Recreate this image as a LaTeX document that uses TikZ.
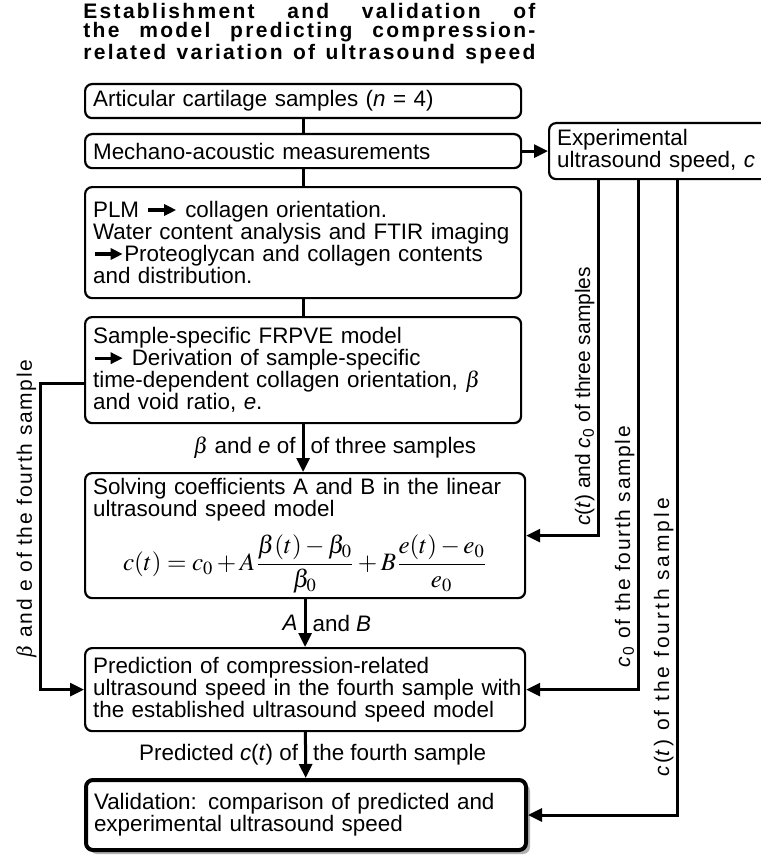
\documentclass[tikz,border=0pt]{standalone}
\usepackage{mathptmx}
\usepackage[no-math]{fontspec}
\setmainfont{Liberation Sans}
\newfontfamily\titlefont{Liberation Sans}[LetterSpace=11]
\newfontfamily\widefont{Liberation Sans}[LetterSpace=8]
\newfontfamily\widerfont{Liberation Sans}[LetterSpace=14]
\usetikzlibrary{arrows.meta,shadows}

\newcommand{\boxfont}{\fontsize{11.2pt}{11pt}\selectfont}
\newcommand{\sidefont}{\fontsize{10.5pt}{12pt}\selectfont}
\newcommand{\headfont}{\titlefont\bfseries\fontsize{10.5pt}{9.4pt}\selectfont}
\newcommand{\eqfont}{\fontsize{12.5pt}{14pt}\selectfont}
% small bold arrow used inside the box texts
\newcommand{\thickto}{\tikz[baseline=-3.8pt]\draw[line width=1.6pt,-{Triangle[length=6pt,width=5.5pt]}] (0pt,0pt) -- (14pt,0pt);}
% one justified line of the heading
\newcommand{\headline}[1]{\makebox[226pt][s]{#1}}

\begin{document}
\begin{tikzpicture}[x=0.5pt, y=-0.5pt,
    box/.style={draw, rounded corners=3.5pt, line width=1.1pt, anchor=north west, align=left, inner xsep=4pt, inner ysep=2pt, font=\boxfont},
    link/.style={line width=1.5pt},
    arr/.style={-{Triangle[length=7pt,width=6.5pt]}, line width=1.5pt},
    lbl/.style={font=\boxfont, inner sep=3pt},
    side/.style={font=\sidefont, rotate=90, anchor=south, inner sep=1pt},
    wideside/.style={side, font=\widefont\sidefont},
    widerside/.style={side, font=\widerfont\sidefont}
]
\useasboundingbox (0,0) rectangle (760,856);

\node[anchor=north west, inner sep=0pt, text width=226pt, align=left, font=\headfont] (title) at (83,3)
  {\headline{Establishment\ \hfill and\ \hfill validation\ \hfill of}\\
   \headline{the\ \hfill model\ \hfill predicting\ \hfill compression-}\\
   \headline{related\ \hfill variation\ \hfill of\ \hfill ultrasound\ \hfill speed}};

\node[box, text width=210pt, minimum height=17pt] (samples) at (84,83) {Articular cartilage samples (\textit{n} = 4)};
\node[box, text width=210pt, minimum height=17pt] (mech) at (84,133) {Mechano-acoustic measurements};
\node[box, text width=140pt, minimum height=28pt] (expc) at (548,122) {Experimental\\ultrasound speed, \textit{c}};
\node[box, text width=210pt, minimum height=55.5pt] (plm) at (84,186)
  {PLM \thickto\ collagen orientation.\\\mbox{Water content analysis and FTIR imaging}\\\thickto Proteoglycan and collagen contents\\and distribution.};
\node[box, text width=210pt, minimum height=53pt] (frpve) at (84,316)
  {Sample-specific FRPVE model\\\thickto\ Derivation of sample-specific\\time-dependent collagen orientation, $\beta$\\and void ratio, \textit{e}.};
\node[box, text width=212pt, minimum height=62.5pt] (solve) at (84,472)
  {\mbox{Solving coefficients A and B in the linear}\\ultrasound speed model\\[6pt]
   \makebox[212pt]{\eqfont$\displaystyle c(t)=c_0+A\frac{\beta(t)-\beta_0}{\beta_0}+B\frac{e(t)-e_0}{e_0}$}};
\node[box, text width=212pt, minimum height=41.5pt] (predict) at (84,647)
  {Prediction of compression-related\\\mbox{ultrasound speed in the fourth sample with}\\the established ultrasound speed model};
\node[box, text width=212pt, minimum height=35pt, line width=2pt, fill=white,
      drop shadow={shadow xshift=2pt, shadow yshift=-2pt, opacity=0.5, fill=black!60}] (valid) at (84,778)
  {Validation: comparison of predicted and\\experimental ultrasound speed};

% main column
\draw[link] (samples) -- (mech);
\draw[link] (mech) -- (plm);
\draw[link] (plm) -- (frpve);
\draw[arr] (mech) -- (expc);
\draw[arr] (frpve.south) -- node[lbl, left] {$\beta$ and \textit{e} of} node[lbl, right] {of three samples} (frpve.south |- solve.north);
\draw[arr] (solve) -- node[lbl, left] {\textit{A}} node[lbl, right] {and \textit{B}} (predict);
\draw[arr] (predict) -- node[lbl, left] {Predicted \textit{c}(\textit{t}) of} node[lbl, right] {the fourth sample} (valid);

% feedback from the measured speed
\draw[arr] ([xshift=25pt]expc.south west) |- node[side, pos=0.304] {\textit{c}(\textit{t}) and \textit{c}\textsubscript{0} of three samples} (solve.east);
\draw[arr] ([xshift=45pt]expc.south west) |- node[wideside, pos=0.36] {\textit{c}\textsubscript{0} of the fourth sample} (predict.east);
\draw[arr] ([xshift=64.5pt]expc.south west) |- node[widerside, pos=0.36] {\textit{c}(\textit{t}) of the fourth sample} (valid.east);
\draw[arr] ([yshift=-6.5pt]frpve.west) -- ++(-22pt,0pt) |- node[wideside, pos=0.206] {$\beta$ and e of the fourth sample} (predict.west);
\end{tikzpicture}
\end{document}
